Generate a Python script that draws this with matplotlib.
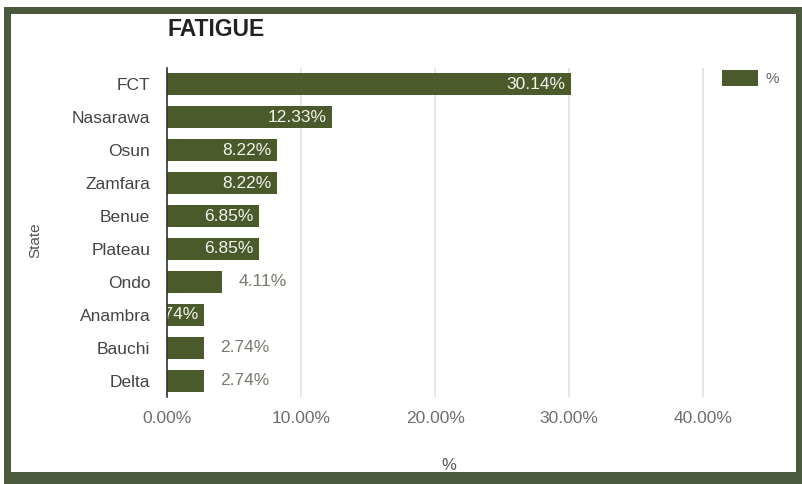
import matplotlib.pyplot as plt
from matplotlib.patches import Rectangle
from matplotlib.ticker import FuncFormatter

states = ["FCT", "Nasarawa", "Osun", "Zamfara", "Benue", "Plateau",
          "Ondo", "Anambra", "Bauchi", "Delta"]
percent = [30.14, 12.33, 8.22, 8.22, 6.85, 6.85, 4.11, 2.74, 2.74, 2.74]
# labels drawn inside the bar (True) or just past its end (False)
inside = [True, True, True, True, True, True, False, True, False, False]

BAR = "#4a5a2b"
FRAME = "#4b5a3d"
W, H = 803, 484

plt.rcParams["font.family"] = ["Liberation Sans", "DejaVu Sans"]

fig = plt.figure(figsize=(W / 100, H / 100), dpi=100)
fig.patch.set_facecolor(FRAME)


def px_rect(x0, y0, x1, y1, color):
    # rectangle given in pixel coords measured from the top-left corner
    fig.patches.append(Rectangle((x0 / W, 1 - y1 / H), (x1 - x0) / W, (y1 - y0) / H,
                                 transform=fig.transFigure, facecolor=color,
                                 edgecolor="none", zorder=-10))


# dark frame: white margin on the top/left, white panel inside
px_rect(0, 0, W, 7, "white")
px_rect(0, 0, 4, H, "white")
px_rect(11, 14, 796, 472, "white")

ax = fig.add_axes([167 / W, 1 - 397 / H, 563 / W, 329 / H])
ax.set_facecolor("none")

ypos = list(range(len(states)))
bars = ax.barh(ypos, percent, height=0.67, color=BAR, zorder=3, label="%")

for y, v, ins in zip(ypos, percent, inside):
    txt = f"{v:.2f}%"
    if ins:
        ax.annotate(txt, (v, y), xytext=(-4, 0), textcoords="offset points",
                    ha="right", va="center", color="#f4f4ee", fontsize=12.5,
                    zorder=4, annotation_clip=False, clip_on=True)
    else:
        ax.annotate(txt, (v, y), xytext=(12, 0), textcoords="offset points",
                    ha="left", va="center", color="#7a7a70", fontsize=12.5,
                    zorder=4)

ax.set_xlim(0, 42)
ax.set_ylim(len(states) - 0.5, -0.5)
ax.set_yticks(ypos, states)
ax.set_xticks([0, 10, 20, 30, 40])
ax.xaxis.set_major_formatter(FuncFormatter(lambda x, _: f"{x:.2f}%"))
ax.tick_params(axis="both", length=0, labelsize=12.5)
ax.tick_params(axis="y", pad=12, labelcolor="#444444")
ax.tick_params(axis="x", pad=10, labelcolor="#6e6e6e")

ax.grid(axis="x", color="#e2e2e2", linewidth=1.2, zorder=0)
for side in ["top", "right", "bottom"]:
    ax.spines[side].set_visible(False)
ax.spines["left"].set_color("#333333")
ax.spines["left"].set_linewidth(1.2)
ax.spines["left"].set_zorder(5)

ax.set_xlabel("%", fontsize=12, color="#555555", labelpad=23)
ax.set_ylabel("State", fontsize=11, color="#555555")
ax.yaxis.set_label_coords(-0.222, 0.477)

fig.text(168 / W, 1 - 29 / H, "FATIGUE", fontsize=16.5, fontweight="bold",
         color="#222222", ha="left", va="center")

ax.legend(loc="upper left", bbox_to_anchor=(708 / W, 1 - 56 / H),
          bbox_transform=fig.transFigure, frameon=False, fontsize=11,
          handlelength=2.35, handleheight=1.3, handletextpad=0.5,
          labelcolor="#666666")

fig.savefig("out.png", dpi=100, facecolor=FRAME)
